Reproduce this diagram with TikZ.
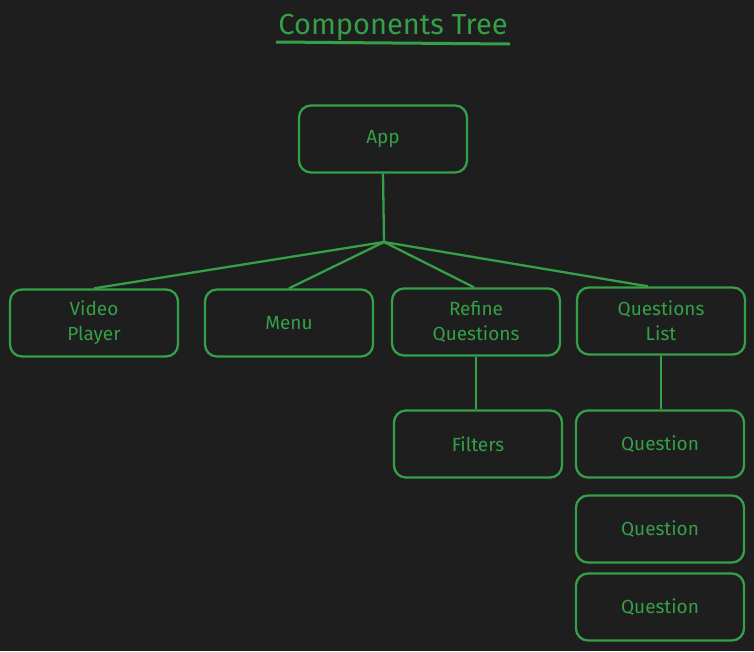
\documentclass[tikz,border=0pt]{standalone}
\usepackage{fontspec}
\setmainfont{Fira Sans}
\definecolor{bg}{HTML}{1E1E1E}
\definecolor{gr}{HTML}{34A047}
\begin{document}
\begin{tikzpicture}[x=1pt,y=-1pt,
  box/.style={draw=gr,line width=2.3pt,rounded corners=12pt,minimum width=168pt,minimum height=67pt,align=center,text=gr,font=\fontsize{19}{25}\selectfont,inner sep=0pt},
  conn/.style={draw=gr,line width=2.3pt}]
\fill[bg] (0,0) rectangle (754,651);
\useasboundingbox (0,0) rectangle (754,651);
\node[text=gr,font=\fontsize{29}{34}\selectfont] (title) at (393,27) {Components Tree};
\coordinate (ulA) at (276,42);
\coordinate (ulB) at (510,44);
\draw[conn,line width=3pt] (ulA) -- (ulB);
\node[box] (app) at (383,139) {App};
\node[box] (video) at (94,323) {Video\\Player};
\node[box] (menu) at (289,323) {Menu};
\node[box] (refine) at (476,322) {Refine\\Questions};
\node[box] (qlist) at (661,321) {Questions\\List};
\node[box] (filters) at (478,444) {Filters};
\node[box] (q1) at (660,444) {Question};
\node[box] (q2) at (660,529) {Question};
\node[box] (q3) at (660,607) {Question};
\coordinate (j) at (384,242);
\draw[conn] (app.south) -- (j);
\draw[conn] (j) -- (video.north);
\draw[conn] (j) -- (menu.north);
\draw[conn] (j) -- ([xshift=-2pt]refine.north);
\draw[conn] (j) -- ([xshift=-13pt]qlist.north);
\draw[conn] (refine.south) -- (filters.north -| refine.south);
\draw[conn] (qlist.south) -- (q1.north -| qlist.south);
\end{tikzpicture}
\end{document}
